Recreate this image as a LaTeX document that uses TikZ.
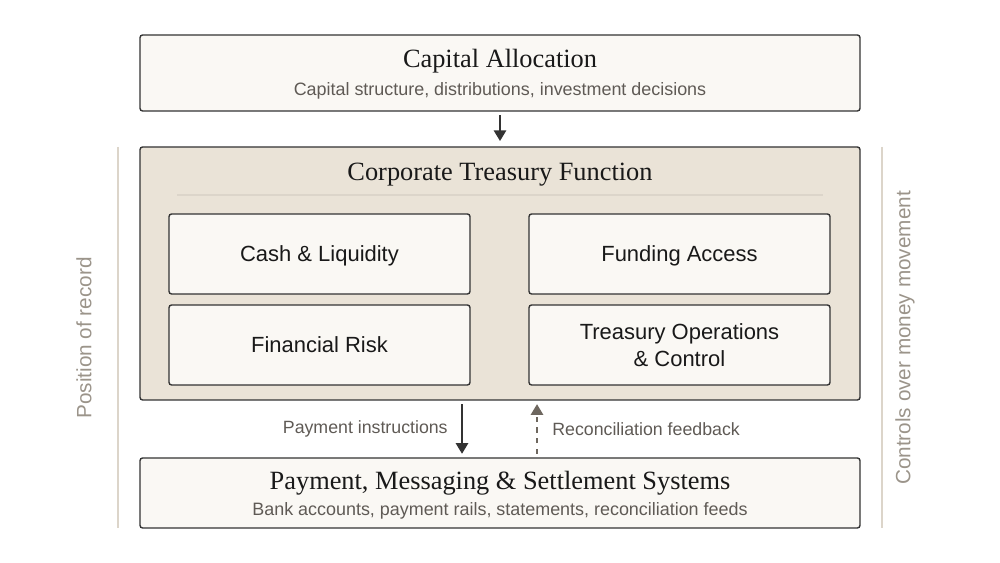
\documentclass[tikz,border=0pt]{standalone}
\usepackage{fontspec}
\setmainfont{Liberation Serif}
\setsansfont{Liberation Sans}
\usepackage{tikz}
\usetikzlibrary{arrows.meta,positioning}

\definecolor{boxfill}{HTML}{FAF8F4}
\definecolor{panel}{HTML}{EAE3D7}
\definecolor{edge}{HTML}{333333}
\definecolor{subtext}{HTML}{5F5A55}
\definecolor{sidetext}{HTML}{9B948A}
\definecolor{sideline}{HTML}{DCD5CA}
\definecolor{feedback}{HTML}{6E675F}

\begin{document}
\begin{tikzpicture}[>={Triangle[length=6pt,width=7pt]},
                    layer box/.style={draw=edge,fill=boxfill,line width=0.8pt,rounded corners=1.5pt,
                                      minimum width=14.4cm,inner sep=0pt},
                    area box/.style={draw=edge,fill=boxfill,line width=0.8pt,rounded corners=1.5pt,
                                     minimum width=6.02cm,minimum height=1.6cm,align=center,
                                     font=\sffamily\fontsize{12.5}{15}\selectfont,text=black!90},
                    title/.style={font=\fontsize{15}{18}\selectfont,text=black!90},
                    sub/.style={font=\sffamily\fontsize{10.2}{12}\selectfont,text=subtext},
                    flow label/.style={font=\sffamily\fontsize{10.1}{12}\selectfont,text=subtext,inner sep=0pt},
                    side label/.style={font=\sffamily\fontsize{11.8}{14}\selectfont,text=sidetext,rotate=90}]
  \useasboundingbox (0,0) rectangle (20,11.26);

  % layers
  \node[layer box,minimum height=1.52cm] (capital) at (10,9.8) {};
  \node[layer box,minimum height=5.06cm,fill=panel] (treasury) at (10,5.79) {};
  \node[layer box,minimum height=1.4cm] (systems) at (10,1.4) {};

  \node[title] (capitaltitle) at (10,10.04) {Capital Allocation};
  \node[sub] (capitalsub) at (10,9.44) {Capital structure, distributions, investment decisions};
  \node[title] (treasurytitle) at (10,7.76) {Corporate Treasury Function};
  \node[title] (systemstitle) at (10,1.6) {Payment, Messaging \& Settlement Systems};
  \node[sub] (systemssub) at (10,1.04) {Bank accounts, payment rails, statements, reconciliation feeds};

  \draw[sideline,line width=0.8pt] (3.54,7.36) -- (16.46,7.36);

  % treasury areas
  \node[area box,text depth=0pt] (cash) at (6.39,6.18) {Cash \& Liquidity};
  \node[area box,text depth=0pt] (funding) at (13.59,6.18) {Funding Access};
  \node[area box,text depth=0pt] (risk) at (6.39,4.36) {Financial Risk};
  \node[area box] (ops) at (13.59,4.36) {Treasury Operations\\\& Control};

  % flows
  \draw[->,edge,line width=0.8pt,shorten <=2pt,shorten >=3pt] (capital) -- (treasury);
  \draw[->,edge,line width=0.8pt,shorten <=2pt,shorten >=2pt]
    ([xshift=-0.76cm]treasury.south) -- ([xshift=-0.76cm]systems.north);
  \draw[->,feedback,line width=0.8pt,dashed,shorten <=2pt,shorten >=2pt]
    ([xshift=0.74cm]systems.north) -- ([xshift=0.74cm]treasury.south);
  \node[flow label,anchor=east] (paylabel) at (8.96,2.68) {Payment instructions};
  \node[flow label,anchor=west] (reclabel) at (11.04,2.68) {Reconciliation feedback};

  % sides
  \coordinate (lefttop) at (2.36,8.32);
  \coordinate (leftbottom) at (2.36,0.7);
  \coordinate (righttop) at (17.64,8.32);
  \coordinate (rightbottom) at (17.64,0.7);
  \draw[sideline,line width=0.8pt] (lefttop) -- (leftbottom);
  \draw[sideline,line width=0.8pt] (righttop) -- (rightbottom);
  \node[side label] (record) at (1.68,4.5) {Position of record};
  \node[side label] (controls) at (18.1,4.5) {Controls over money movement};
\end{tikzpicture}
\end{document}
